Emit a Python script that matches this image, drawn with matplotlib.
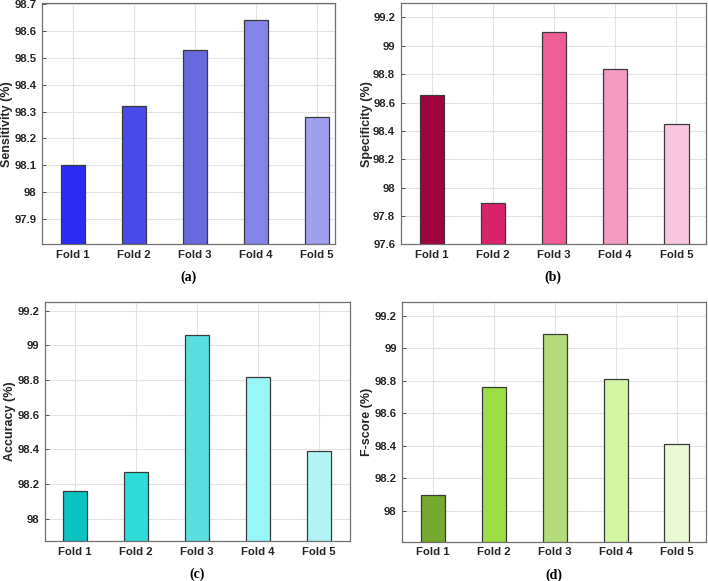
import matplotlib
matplotlib.use("Agg")
import matplotlib.pyplot as plt

folds = ["Fold 1", "Fold 2", "Fold 3", "Fold 4", "Fold 5"]

sensitivity = [98.10, 98.32, 98.53, 98.64, 98.28]
specificity = [98.65, 97.89, 99.10, 98.84, 98.45]
accuracy = [98.16, 98.27, 99.06, 98.82, 98.39]
fscore = [98.10, 98.76, 99.09, 98.81, 98.41]

blues = ["#2B2BF6", "#4B4BE9", "#6A6AE0", "#8484E8", "#A0A0EE"]
pinks = ["#A0023E", "#DA226B", "#EE5E95", "#F59BC2", "#F9C8DF"]
cyans = ["#0CC3C3", "#2EDCDC", "#5BDEDE", "#98F6F6", "#B2F3F3"]
greens = ["#76A92F", "#9CDE44", "#B4DC7C", "#D3F4A3", "#EBF8D6"]

plt.rcParams["font.family"] = ["Liberation Sans", "DejaVu Sans"]

fig = plt.figure(figsize=(7.08, 5.81), dpi=100)

panels = [
    # rect, values, colors, ylabel, ylim, yticks, xlim, caption, label x
    ([0.0597, 0.5795, 0.4135, 0.4148], sensitivity, blues, "Sensitivity (%)",
     (97.806, 98.703), [97.9, 98, 98.1, 98.2, 98.3, 98.4, 98.5, 98.6, 98.7],
     (0.49, 5.30), "(a)", -0.12),
    ([0.5660, 0.5795, 0.4308, 0.4148], specificity, pinks, "Specificity (%)",
     (97.6, 99.30), [97.6, 97.8, 98, 98.2, 98.4, 98.6, 98.8, 99, 99.2],
     (0.49, 5.48), "(b)", -0.111),
    ([0.0636, 0.0688, 0.4308, 0.4119], accuracy, cyans, "Accuracy (%)",
     (97.871, 99.252), [98, 98.2, 98.4, 98.6, 98.8, 99, 99.2],
     (0.51, 5.51), "(c)", -0.115),
    ([0.5682, 0.0676, 0.4286, 0.4131], fscore, greens, "F-score (%)",
     (97.809, 99.288), [98, 98.2, 98.4, 98.6, 98.8, 99, 99.2],
     (0.49, 5.48), "(d)", -0.117),
]

for rect, vals, cols, ylab, ylim, yt, xlim, cap, lx in panels:
    ax = fig.add_axes(rect)
    x = list(range(1, len(folds) + 1))
    base = ylim[0]
    ax.bar(x, [v - base for v in vals], bottom=base, width=0.4, color=cols,
           edgecolor="#3a3a3a", linewidth=0.9, zorder=3)
    ax.set_xlim(*xlim)
    ax.set_ylim(*ylim)
    ax.set_xticks(x)
    ax.set_xticklabels(folds, fontsize=8.2, fontweight="bold", color="#262626")
    ax.set_yticks(yt)
    ax.set_yticklabels([f"{t:g}" for t in yt], fontsize=8.2, fontweight="bold",
                       color="#262626")
    ax.set_ylabel(ylab, fontsize=9, fontweight="bold", color="#262626",
                  va="center")
    ax.yaxis.set_label_coords(lx, 0.5)
    ax.grid(True, color="#e3e3e3", linewidth=0.8, zorder=0)
    ax.tick_params(direction="in", length=3, width=0.7, color="#555555",
                   pad=4, top=False, right=False)
    for s in ax.spines.values():
        s.set_color("#707070")
        s.set_linewidth(0.9)
    ax.annotate(cap, xy=(0.5, 0), xycoords="axes fraction",
                xytext=(0, -24), textcoords="offset points",
                ha="center", va="center", fontsize=10, fontweight="bold",
                family="Liberation Serif")

fig.savefig("out.png", dpi=100)
